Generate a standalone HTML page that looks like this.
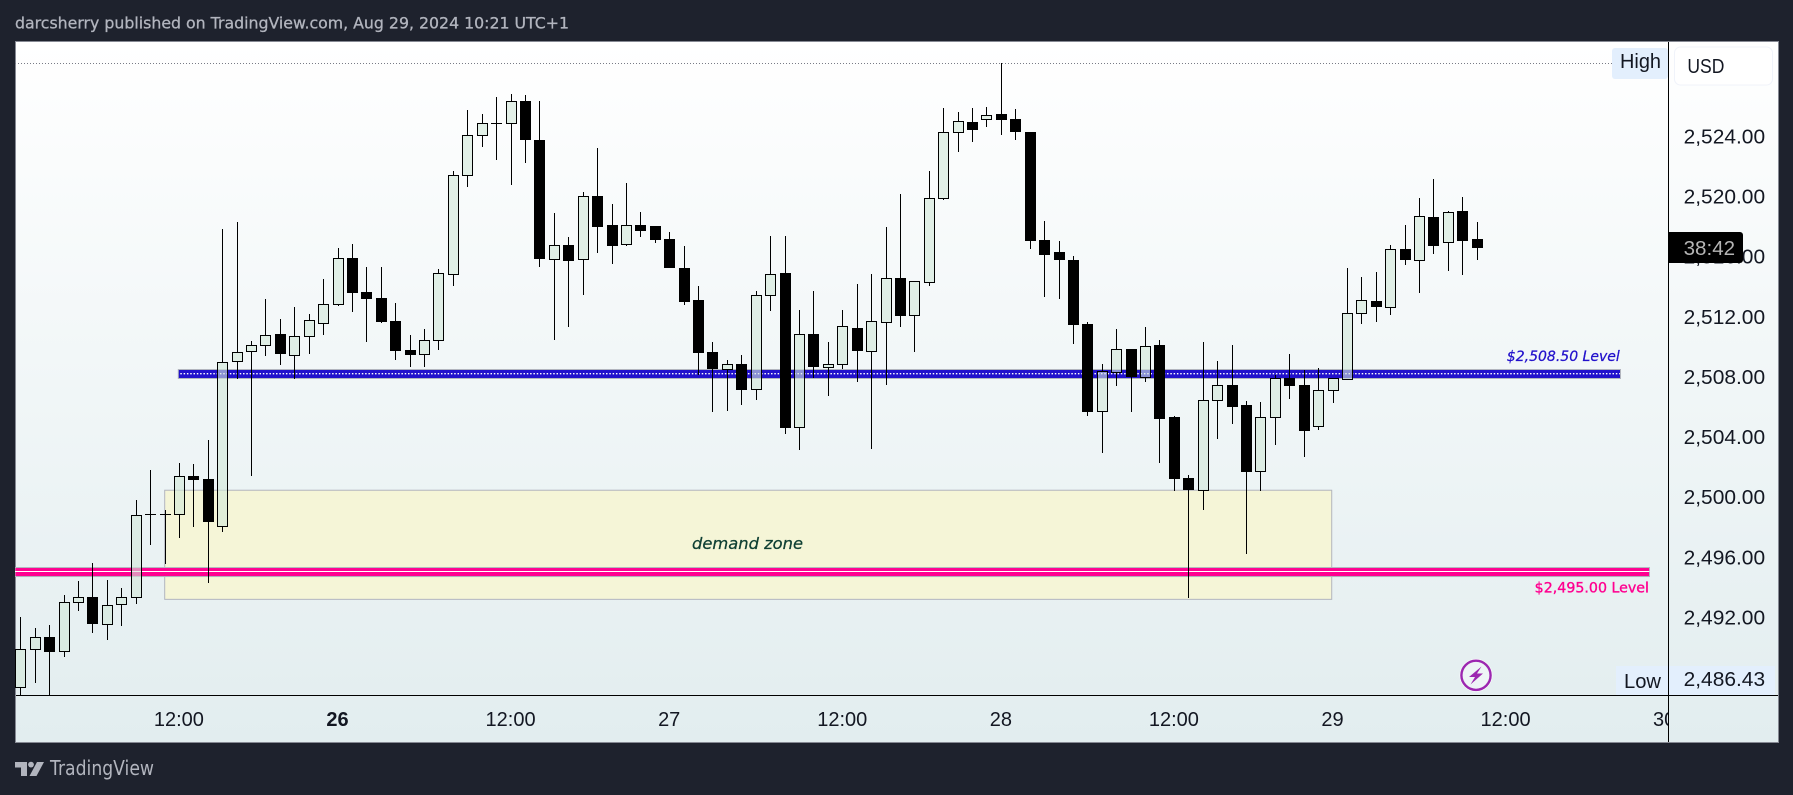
<!DOCTYPE html>
<html lang="en">
<head>
<meta charset="utf-8">
<title>TradingView chart</title>
<style>
html,body{margin:0;padding:0;width:1793px;height:795px;overflow:hidden;background:#1e222d}
svg{display:block}
text{font-family:"Liberation Sans","DejaVu Sans",sans-serif}
text.dj{font-family:"DejaVu Sans","Liberation Sans",sans-serif}
</style>
</head>
<body>
<svg id="chart" xmlns="http://www.w3.org/2000/svg" width="1793" height="795" viewBox="0 0 1793 795">
  <defs>
    <linearGradient id="bg" x1="0" y1="0" x2="0" y2="1">
      <stop offset="0" stop-color="#ffffff"/>
      <stop offset="1" stop-color="#e2edef"/>
    </linearGradient>
    <clipPath id="pane"><rect x="15" y="42" width="1653" height="653"/></clipPath>
    <clipPath id="timeclip"><rect x="15" y="696" width="1653" height="46"/></clipPath>
  </defs>
  <rect x="0" y="0" width="1793" height="795" fill="#1e222d"/>
  <text class="dj" x="15" y="28.5" font-size="16" fill="#b2b5be" stroke="#b2b5be" stroke-width="0.3" textLength="554" lengthAdjust="spacingAndGlyphs">darcsherry published on TradingView.com, Aug 29, 2024 10:21 UTC+1</text>
  <rect x="15.5" y="41.5" width="1763" height="701" fill="url(#bg)" stroke="#868993" stroke-width="1"/>
  <g id="overlays-under" clip-path="url(#pane)"></g>
  <g id="candles" clip-path="url(#pane)"></g>
  <g id="axes"></g>
  <g id="time-labels" clip-path="url(#timeclip)"></g>
  <g id="price-labels"></g>

  <rect x="1612" y="48" width="56" height="31" rx="3" fill="#e3effd"/>
  <text x="1620" y="68" font-size="20" fill="#131722" textLength="41" lengthAdjust="spacingAndGlyphs">High</text>
  <rect x="1616" y="666" width="52" height="29" fill="#e3effd"/>
  <text x="1624" y="688" font-size="20" fill="#131722" textLength="37" lengthAdjust="spacingAndGlyphs">Low</text>
  <rect x="1669" y="666" width="106" height="29" fill="#e3effd"/>
  <text x="1683.6" y="686" font-size="20" fill="#131722" textLength="81.5" lengthAdjust="spacingAndGlyphs">2,486.43</text>

  <rect x="1674.5" y="47" width="98" height="38" rx="6" fill="#ffffff" stroke="#f0f3fa" stroke-width="1"/>
  <text x="1687.4" y="73" font-size="20" fill="#131722" textLength="37" lengthAdjust="spacingAndGlyphs">USD</text>

  <path d="M1668 232H1740a3 3 0 0 1 3 3V260a3 3 0 0 1-3 3H1668Z" fill="#000000"/>
  <text x="1683.6" y="255" font-size="20" fill="#b4b4b4" textLength="51.5" lengthAdjust="spacingAndGlyphs">38:42</text>

  <g>
    <circle cx="1476" cy="675.3" r="16.4" fill="#ffffff"/>
    <circle cx="1476" cy="675.3" r="14.6" fill="#eef4f6" stroke="#9c27b0" stroke-width="2.4"/>
    <path d="M1481.5 666.5L1469 677H1475L1470.5 684.5L1483 673.5H1477Z" fill="#9c27b0"/>
  </g>

  <g>
    <path d="M15 762H27V776H21V767.5H15Z" fill="#b2b5be"/>
    <circle cx="31" cy="764.6" r="2.9" fill="#b2b5be"/>
    <path d="M37 762H44L36.5 776H29.5Z" fill="#b2b5be"/>
    <text class="dj" x="50" y="775" font-size="20" fill="#b2b5be" textLength="104" lengthAdjust="spacingAndGlyphs">TradingView</text>
  </g>
</svg>
<script>
// Hourly OHLC series
const opens = [2487.35,2489.88,2490.68,2489.74,2493.00,2493.34,2491.59,2492.87,2493.34,2498.86,2498.86,2498.86,2501.39,2501.19,2498.06,2509.04,2509.70,2510.10,2510.84,2509.44,2510.70,2511.57,2512.83,2515.89,2513.63,2513.23,2511.70,2509.77,2509.50,2510.44,2514.83,2521.41,2524.08,2524.87,2524.87,2526.34,2523.74,2515.83,2516.76,2515.83,2520.02,2518.09,2516.82,2518.09,2518.02,2517.16,2515.23,2513.10,2509.64,2508.55,2508.84,2507.18,2513.43,2514.89,2504.65,2510.84,2508.68,2508.84,2511.23,2509.75,2511.68,2514.56,2512.10,2514.34,2519.88,2524.28,2524.94,2525.14,2525.47,2525.14,2524.28,2517.09,2516.29,2515.76,2511.50,2505.71,2508.31,2509.84,2507.97,2510.10,2505.34,2501.25,2500.50,2506.44,2507.46,2506.13,2501.72,2505.31,2507.95,2507.46,2504.71,2507.11,2507.89,2512.23,2513.03,2512.63,2516.49,2515.76,2518.62,2516.96,2519.02,2517.16];
const highs = [2492.03,2491.30,2491.50,2493.49,2494.42,2495.62,2494.49,2493.96,2499.81,2501.81,2499.15,2502.27,2502.21,2503.80,2517.84,2518.31,2510.39,2513.19,2511.86,2512.65,2512.19,2514.52,2516.58,2516.85,2515.32,2515.32,2512.92,2510.79,2511.19,2515.16,2521.68,2525.76,2525.50,2526.63,2526.83,2526.76,2526.36,2518.91,2517.31,2520.31,2523.23,2519.51,2520.90,2518.97,2518.04,2517.64,2516.71,2514.05,2510.33,2509.13,2509.46,2513.72,2517.38,2517.38,2512.45,2513.72,2510.33,2512.45,2514.18,2514.85,2517.98,2520.17,2514.36,2521.70,2525.89,2525.63,2525.89,2525.96,2528.87,2525.83,2524.28,2518.38,2517.05,2516.03,2511.66,2508.86,2511.19,2509.84,2511.32,2510.46,2505.40,2501.48,2510.33,2509.06,2510.13,2506.40,2506.31,2508.13,2509.53,2508.46,2508.60,2507.95,2515.25,2514.65,2514.98,2516.78,2518.11,2519.91,2521.17,2519.04,2519.97,2518.31];
const lows = [2486.60,2487.64,2486.43,2489.39,2492.43,2490.99,2490.50,2491.45,2492.89,2496.82,2495.56,2497.29,2498.02,2494.29,2497.71,2507.89,2501.43,2509.42,2508.82,2507.84,2509.55,2510.81,2512.70,2512.34,2510.35,2511.61,2509.15,2508.68,2508.68,2509.82,2514.07,2520.66,2523.32,2522.46,2520.79,2522.26,2515.34,2510.48,2511.35,2513.47,2516.27,2515.54,2516.73,2517.33,2516.93,2515.27,2512.81,2508.13,2505.69,2505.76,2506.16,2506.49,2512.39,2504.23,2503.16,2507.95,2506.75,2508.55,2507.69,2503.23,2507.49,2511.35,2509.68,2514.07,2519.80,2522.97,2523.63,2524.63,2524.10,2523.77,2516.51,2513.34,2513.21,2510.21,2505.42,2502.96,2507.40,2505.69,2507.69,2502.30,2500.43,2493.32,2499.15,2503.89,2504.89,2496.24,2500.43,2503.49,2506.56,2502.70,2504.49,2506.29,2507.80,2511.55,2511.68,2512.14,2515.45,2513.61,2516.18,2515.07,2514.81,2515.80];
const closes = [2489.88,2490.68,2489.72,2493.00,2493.34,2491.59,2492.80,2493.34,2498.79,2498.86,2498.86,2501.39,2501.17,2498.37,2508.97,2509.64,2510.10,2510.77,2509.55,2510.70,2511.77,2512.83,2515.89,2513.61,2513.21,2511.68,2509.75,2509.48,2510.44,2514.89,2521.41,2524.08,2524.87,2524.87,2526.34,2523.79,2515.87,2516.76,2515.74,2520.02,2518.00,2516.73,2518.09,2517.73,2517.13,2515.27,2513.01,2509.62,2508.53,2508.84,2507.15,2513.43,2514.83,2504.63,2510.84,2508.68,2508.84,2511.37,2509.75,2511.70,2514.56,2512.08,2514.36,2519.88,2524.28,2525.01,2524.45,2525.41,2525.12,2524.32,2517.07,2516.14,2515.80,2511.48,2505.69,2508.37,2509.84,2508.00,2510.04,2505.22,2501.23,2500.48,2506.44,2507.46,2506.02,2501.70,2505.31,2507.91,2507.42,2504.43,2507.11,2507.91,2512.23,2513.10,2512.68,2516.49,2515.80,2518.69,2516.73,2518.95,2517.07,2516.60];

// Axis ticks
const priceTicks = [2524,2520,2516,2512,2508,2504,2500,2496,2492];
const priceTickLabels = ["2,524.00","2,520.00","2,516.00","2,512.00","2,508.00","2,504.00","2,500.00","2,496.00","2,492.00"];
const timeTickBars = [11,22,34,45,57,68,80,91,103,114];
const timeTickLabels = ["12:00","26","12:00","27","12:00","28","12:00","29","12:00","30"];
const timeTickBold = ["26"];

// Drawn price levels and zone bounds
const sessionHigh = 2528.87;
const blueLevel = 2508.22;
const pinkLevel = 2495.05;
const zoneTop = 2500.46;
const zoneBottom = 2493.20;
const blueStartBar = 11;
const zoneStartBar = 10;
const zoneEndBar = 91;

// Axis functions
function xScale(i){ return 20.3 + i * 14.42; }
function yScale(p){ return 376.9 - 15.03 * (p - 2508); }

const NS = 'http://www.w3.org/2000/svg';
function mk(tag, attrs, parent){
  const el = document.createElementNS(NS, tag);
  for (const k in attrs) el.setAttribute(k, attrs[k]);
  parent.appendChild(el);
  return el;
}

const under = document.getElementById('overlays-under');

// High dotted line
const highLine = mk('line', {x1:15, x2:1612, y1:Math.round(yScale(sessionHigh)) + 0.5, y2:Math.round(yScale(sessionHigh)) + 0.5, stroke:'#787b86', 'stroke-width':1, 'stroke-dasharray':'1 2'}, under);



// Demand zone
const zoneX = xScale(zoneStartBar) + 0.2;
const zoneW = xScale(zoneEndBar) - xScale(zoneStartBar) - 1;
const zone = mk('rect', {x:zoneX, y:yScale(zoneTop), width:zoneW, height:yScale(zoneBottom) - yScale(zoneTop), fill:'#f5f5d7', stroke:'#b2b5be', 'stroke-width':1}, under);



const zoneText = mk('text', {class:'dj', x:692, y:549, 'font-size':16, 'font-style':'italic', fill:'#0e3f33', stroke:'#0e3f33', 'stroke-width':0.25, textLength:111, lengthAdjust:'spacingAndGlyphs'}, under);
zoneText.textContent = 'demand zone';



// Blue level
const blueY = yScale(blueLevel);
const blueX = xScale(blueStartBar) - 0.6;
const blueBand = mk('rect', {x:blueX, y:Math.round(blueY) - 4.5, width:1620.5 - blueX, height:9, fill:'#2211cc', stroke:'#b2b5be', 'stroke-width':1}, under);


const blueDots = mk('line', {x1:blueX + 2, x2:1620, y1:blueY + 0.1, y2:blueY + 0.1, stroke:'#ffffff', 'stroke-width':1.4, 'stroke-dasharray':'1.5 1.8'}, under);


const blueText = mk('text', {class:'dj', x:1506.8, y:361, 'font-size':14, 'font-style':'italic', fill:'#2211cc', stroke:'#2211cc', 'stroke-width':0.25, textLength:113, lengthAdjust:'spacingAndGlyphs'}, under);
blueText.textContent = '$2,508.50 Level';



// Pink level
const pinkY = yScale(pinkLevel);
const pinkBand = mk('rect', {x:15, y:pinkY - 4, width:1634.5, height:9, fill:'#ff0090', stroke:'#b2b5be', 'stroke-width':1}, under);


const pinkCore = mk('line', {x1:15, x2:1649.5, y1:pinkY, y2:pinkY, stroke:'#ffffff', 'stroke-width':1}, under);


const pinkText = mk('text', {class:'dj', x:1534.7, y:592.5, 'font-size':14, fill:'#ff0090', stroke:'#ff0090', 'stroke-width':0.35, textLength:114.3, lengthAdjust:'spacingAndGlyphs'}, under);
pinkText.textContent = '$2,495.00 Level';



// Candles
const candles = document.getElementById('candles');
for (let i = 0; i < opens.length; i++) {
  const cx = Math.round(xScale(i));
  const yO = Math.round(yScale(opens[i])), yC = Math.round(yScale(closes[i])), yH = Math.round(yScale(highs[i])), yL = Math.round(yScale(lows[i]));
  const top = Math.min(yO, yC), bot = Math.max(yO, yC);
  const isDown = closes[i] < opens[i];
  const g = mk('g', {}, candles);
  
  
  if (top > yH) mk('rect', {x:cx, y:yH, width:1, height:top - yH, fill:'#000000'}, g);
  if (yL > bot) mk('rect', {x:cx, y:bot, width:1, height:yL - bot, fill:'#000000'}, g);
  if (top === bot) {
    mk('rect', {x:cx - 5, y:top, width:11, height:1, fill:'#000000'}, g);
  } else if (isDown) {
    mk('rect', {x:cx - 5, y:top, width:11, height:bot - top, fill:'#000000'}, g);
  } else {
    mk('rect', {x:cx - 4.5, y:top + 0.5, width:10, height:bot - top, fill:'#d2e8d8', 'fill-opacity':0.6, stroke:'#000000', 'stroke-width':1}, g);
  }
}

// Axes
const axes = document.getElementById('axes');
const priceAxisLine = mk('line', {x1:1668.5, x2:1668.5, y1:42, y2:742, stroke:'#000000', 'stroke-width':1}, axes);


const timeAxisLine = mk('line', {x1:16, x2:1778, y1:695.5, y2:695.5, stroke:'#000000', 'stroke-width':1}, axes);



const priceLabels = document.getElementById('price-labels');
priceTicks.forEach(function(p, i){
  const t = mk('text', {x:1683.6, y:yScale(p) + 7, 'font-size':20, fill:'#131722', textLength:81.5, lengthAdjust:'spacingAndGlyphs'}, priceLabels);
  t.textContent = priceTickLabels[i];
  
  
});

const timeLabels = document.getElementById('time-labels');
timeTickBars.forEach(function(b, i){
  const bold = timeTickBold.indexOf(timeTickLabels[i]) >= 0;
  const t = mk('text', {x:xScale(b), y:726, 'font-size':20, 'text-anchor':'middle', 'font-weight':bold ? 700 : 400, fill:'#131722'}, timeLabels);
  t.textContent = timeTickLabels[i];
  
  
});
</script>
</body>
</html>
